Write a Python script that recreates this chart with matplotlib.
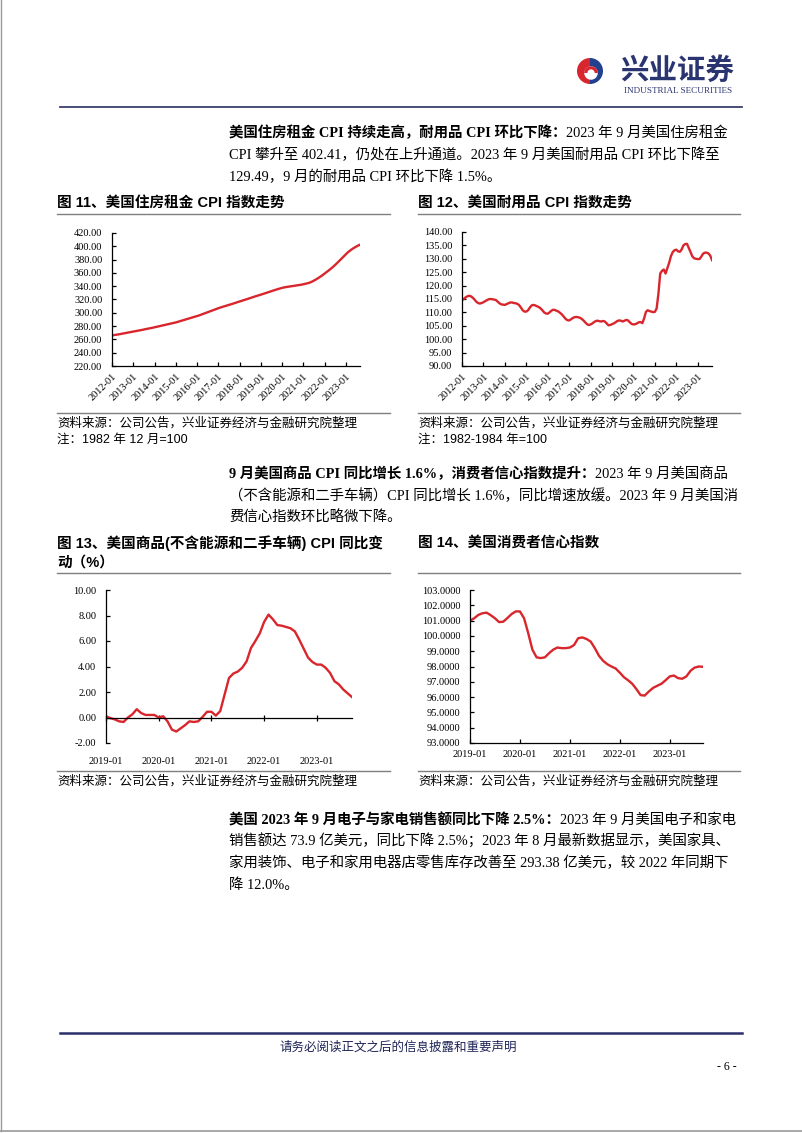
import numpy as np
import matplotlib.pyplot as plt
from matplotlib.patches import Wedge, Circle

plt.rcParams['font.family'] = ['Liberation Serif', 'Noto Sans CJK SC', 'DejaVu Sans']

# ---------- data ----------
rent_cpi = [
    266.0, 266.4, 266.8, 267.2, 267.7, 268.2, 268.7, 269.2, 269.7, 270.2, 270.7, 271.1,
    271.6, 272.1, 272.6, 273.1, 273.7, 274.3, 274.9, 275.4, 276.0, 276.5, 277.1, 277.6,
    278.2, 278.8, 279.4, 280.0, 280.6, 281.2, 281.8, 282.4, 283.0, 283.6, 284.2, 284.9,
    285.5, 286.3, 287.1, 287.9, 288.7, 289.5, 290.3, 291.1, 291.9, 292.7, 293.5, 294.2,
    295.0, 295.9, 296.9, 297.9, 298.9, 299.9, 300.9, 302.0, 303.0, 304.0, 305.0, 306.0,
    307.0, 307.8, 308.6, 309.4, 310.2, 311.0, 311.8, 312.6, 313.5, 314.4, 315.3, 316.1,
    317.0, 317.8, 318.7, 319.5, 320.4, 321.2, 322.1, 323.0, 323.9, 324.8, 325.6, 326.4,
    327.2, 328.1, 329.0, 329.9, 330.8, 331.7, 332.5, 333.4, 334.3, 335.1, 335.9, 336.7,
    337.5, 338.1, 338.6, 339.0, 339.4, 339.8, 340.2, 340.6, 341.0, 341.4, 341.8, 342.3,
    342.9, 343.4, 344.0, 344.8, 345.8, 347.0, 348.4, 349.9, 351.5, 353.2, 355.0, 356.9,
    358.9, 360.9, 363.0, 365.1, 367.3, 369.6, 372.0, 374.6, 377.3, 380.1, 382.9, 385.6,
    388.2, 390.6, 392.8, 394.8, 396.6, 398.3, 399.8, 401.2, 402.41,
]
durables_cpi = [
    114.6, 115.0, 115.6, 116.0, 116.2, 116.0, 115.5, 114.8, 114.0, 113.5, 113.3, 113.5,
    113.8, 114.2, 114.6, 114.9, 115.0, 114.9, 114.8, 114.6, 114.0, 113.4, 113.0, 112.9,
    112.8, 113.1, 113.4, 113.7, 113.7, 113.5, 113.4, 113.2, 112.7, 111.8, 110.8, 110.3,
    110.3, 110.8, 111.8, 112.6, 112.8, 112.6, 112.3, 112.0, 111.5, 110.8, 110.0, 109.6,
    109.5, 110.0, 110.6, 111.0, 110.9, 110.6, 110.3, 109.8, 109.2, 108.4, 107.6, 107.1,
    107.0, 107.4, 107.9, 108.2, 108.3, 108.2, 108.0, 107.6, 107.0, 106.3, 105.6, 105.3,
    105.5, 105.9, 106.4, 106.8, 106.9, 106.7, 106.6, 106.8, 106.6, 105.9, 105.2, 105.3,
    105.6, 105.9, 106.3, 106.8, 107.0, 106.9, 106.6, 106.9, 107.2, 107.0, 106.3, 105.7,
    105.5, 105.6, 105.9, 106.3, 106.4, 106.0, 107.8, 110.2, 110.8, 110.5, 110.3, 110.1,
    110.2, 111.5, 117.0, 124.5, 125.5, 126.0, 124.5, 126.5, 128.5, 131.0, 132.5, 133.2,
    133.4, 132.8, 132.6, 133.5, 135.0, 135.5, 135.6, 134.0, 132.3, 130.9, 130.2, 130.0,
    129.9, 129.9, 130.8, 131.9, 132.3, 132.3, 132.0, 131.2, 129.49,
]
years_long = ['2012-01', '2013-01', '2014-01', '2015-01', '2016-01', '2017-01',
              '2018-01', '2019-01', '2020-01', '2021-01', '2022-01', '2023-01']

goods_yoy = [
    0.10, -0.05, -0.15, -0.30, -0.35, 0.00, 0.25, 0.65, 0.35, 0.20, 0.20, 0.20,
    0.00, 0.10, -0.30, -0.95, -1.10, -0.85, -0.60, -0.30, -0.35, -0.30, 0.05, 0.45,
    0.45, 0.15, 0.50, 1.80, 3.10, 3.45, 3.60, 3.90, 4.40, 5.45, 6.00, 6.60,
    7.50, 8.07, 7.70, 7.25, 7.20, 7.10, 7.00, 6.75, 6.10, 5.40, 4.70, 4.35,
    4.15, 4.15, 3.90, 3.50, 2.85, 2.60, 2.20, 1.90, 1.60,
]
consumer_conf = [
    101.00, 101.15, 101.37, 101.48, 101.52, 101.35, 101.15, 100.90, 100.93, 101.17, 101.43, 101.60,
    101.60, 101.15, 100.17, 99.10, 98.60, 98.55, 98.60, 98.87, 99.10, 99.24, 99.20, 99.20,
    99.24, 99.40, 99.85, 99.90, 99.80, 99.63, 99.20, 98.70, 98.37, 98.15, 98.00, 97.87,
    97.60, 97.30, 97.10, 96.87, 96.52, 96.13, 96.10, 96.37, 96.60, 96.74, 96.87, 97.10,
    97.35, 97.41, 97.24, 97.20, 97.35, 97.72, 97.93, 98.00, 97.98,
]
years_short = ['2019-01', '2020-01', '2021-01', '2022-01', '2023-01']

RED = '#D8262C'
W, H = 802, 1133

fig = plt.figure(figsize=(W / 100, H / 100), dpi=100)

# page canvas in pixel coordinates
bg = fig.add_axes([0, 0, 1, 1])
bg.set_xlim(0, W)
bg.set_ylim(H, 0)
bg.axis('off')

SANS = ['Liberation Sans', 'Noto Sans CJK SC']
SERIF = ['Liberation Serif', 'Noto Sans CJK SC']

# page frame
bg.plot([0.8, 0.8], [0, H - 2], color='#9a9a9a', lw=1)
bg.plot([0, W], [H - 2, H - 2], color='#9a9a9a', lw=1.2)

# logo
cx, cy, r = 590, 71, 13
bg.add_patch(Wedge((cx, cy), r, 90, 270, facecolor='#D7262E', edgecolor='none'))
bg.add_patch(Wedge((cx, cy), r, -90, 90, facecolor='#23408E', edgecolor='none'))
bg.add_patch(Circle((cx + 1, cy + 2), r * 0.52, facecolor='white', edgecolor='none'))
bg.add_patch(Wedge((cx + 1, cy + 2), r * 0.52, 180, 360, width=r * 0.24,
                   facecolor='#D7262E', edgecolor='none'))
bg.text(677, 71, '兴业证券', family=['Noto Sans CJK SC'], fontsize=20.5, fontweight='bold',
        color='#2A3470', ha='center', va='center')
bg.text(678, 91, 'INDUSTRIAL SECURITIES', family=['Liberation Serif'], fontsize=6.6,
        color='#2A3470', ha='center', va='center')
bg.plot([60, 742], [107, 107], color='#3B3F6B', lw=1.3)


def para(x, y0, lines, bold_head, step=22, size=10.4):
    for i, line in enumerate(lines):
        y = y0 + i * step
        if i == 0:
            t = bg.text(x, y, bold_head, family=SERIF, fontsize=size, fontweight='bold',
                        va='bottom', ha='left')
            bg.annotate(line, xy=(1, 0), xycoords=t, family=SERIF, fontsize=size,
                        va='bottom', ha='left')
        else:
            bg.text(x, y, line, family=SERIF, fontsize=size, va='bottom', ha='left')


para(229, 140, ['2023 年 9 月美国住房租金',
                'CPI 攀升至 402.41，仍处在上升通道。2023 年 9 月美国耐用品 CPI 环比下降至',
                '129.49，9 月的耐用品 CPI 环比下降 1.5%。'],
     '美国住房租金 CPI 持续走高，耐用品 CPI 环比下降：')
para(229, 481, ['2023 年 9 月美国商品',
                '（不含能源和二手车辆）CPI 同比增长 1.6%，同比增速放缓。2023 年 9 月美国消',
                '费信心指数环比略微下降。'],
     '9 月美国商品 CPI 同比增长 1.6%，消费者信心指数提升：')
para(229, 827, ['2023 年 9 月美国电子和家电',
                '销售额达 73.9 亿美元，同比下降 2.5%；2023 年 8 月最新数据显示，美国家具、',
                '家用装饰、电子和家用电器店零售库存改善至 293.38 亿美元，较 2022 年同期下',
                '降 12.0%。'],
     '美国 2023 年 9 月电子与家电销售额同比下降 2.5%：', step=21.7)


def frame(x0, x1, title_lines, t_y, line_y, rule_y, notes):
    for i, tl in enumerate(title_lines):
        bg.text(x0, t_y + i * 20, tl, family=SANS, fontsize=10.5, fontweight='bold',
                va='center', ha='left')
    bg.plot([x0, x1], [line_y, line_y], color='#7f7f7f', lw=1)
    bg.plot([x0, x1], [rule_y, rule_y], color='#7f7f7f', lw=1)
    for i, n in enumerate(notes):
        fam = SERIF if i == 0 else SANS
        bg.text(x0, rule_y + 10 + i * 17, n, family=fam, fontsize=9, va='center', ha='left')


src = '资料来源：公司公告，兴业证券经济与金融研究院整理'
frame(57, 390, ['图 11、美国住房租金 CPI 指数走势'], 203, 214, 413, [src, '注：1982 年 12 月=100'])
frame(418, 740, ['图 12、美国耐用品 CPI 指数走势'], 203, 214, 413, [src, '注：1982-1984 年=100'])
frame(57, 390, ['图 13、美国商品(不含能源和二手车辆) CPI 同比变', '动（%）'], 543, 573, 771, [src])
frame(418, 740, ['图 14、美国消费者信心指数'], 543, 573, 771, [src])

# footer
bg.plot([60, 742], [1033, 1033], color='#2B2F6B', lw=1.8)
bg.text(398, 1048, '请务必阅读正文之后的信息披露和重要声明', family=SERIF, fontsize=9,
        color='#1E2456', ha='center', va='center')
bg.text(737, 1067, '- 6 -', family=SERIF, fontsize=8.5, ha='right', va='center')


def rect(l, t, rgt, b):
    return [l / W, 1 - b / H, (rgt - l) / W, (b - t) / H]


def style(ax, ylo, yhi, ystep, fmt):
    ax.set_facecolor('none')
    for s in ['top', 'right']:
        ax.spines[s].set_visible(False)
    for s in ['left', 'bottom']:
        ax.spines[s].set_linewidth(0.9)
    ax.set_ylim(ylo, yhi)
    ax.set_yticks(np.arange(ylo, yhi + ystep / 2, ystep))
    ax.yaxis.set_major_formatter(plt.FuncFormatter(lambda v, p: fmt.format(v)))
    ax.tick_params(direction='in', length=3, width=0.9, labelsize=7.5, pad=7)


def long_chart(pos, values, ylo, yhi, ystep):
    ax = fig.add_axes(rect(*pos))
    x = np.arange(len(values))
    ax.plot(x, values, color=RED, lw=1.7)
    ax.set_xlim(0, len(values) - 1)
    ax.set_xticks(np.arange(0, len(values), 12))
    ax.set_xticklabels(years_long, rotation=45, ha='right', rotation_mode='anchor')
    style(ax, ylo, yhi, ystep, '{:.2f}')
    ax.tick_params(axis='x', pad=4)
    return ax


long_chart((112, 233, 360, 366), rent_cpi, 220, 420, 20)
long_chart((462, 232, 712, 366), durables_cpi, 90, 140, 5)

# chart 13
ax13 = fig.add_axes(rect(106, 590, 352, 743))
x = np.arange(len(goods_yoy))
ax13.plot(x, goods_yoy, color=RED, lw=1.7)
ax13.set_xlim(0, len(goods_yoy) - 1)
style(ax13, -2, 10, 2, '{:.2f}')
ax13.spines['bottom'].set_position(('data', 0))
ax13.set_xticks(np.arange(0, len(goods_yoy), 12))
ax13.set_xticklabels(years_short)
ax13.tick_params(axis='x', direction='inout', length=5, pad=26)

# chart 14
ax14 = fig.add_axes(rect(470, 590, 703, 743))
x = np.arange(len(consumer_conf))
ax14.plot(x, consumer_conf, color=RED, lw=1.7)
ax14.set_xlim(0, len(consumer_conf) - 1)
style(ax14, 93, 103, 1, '{:.4f}')
ax14.set_xticks(np.arange(0, len(consumer_conf), 12))
ax14.set_xticklabels(years_short)
ax14.tick_params(axis='x', pad=5)

fig.savefig('out.png', dpi=100)
